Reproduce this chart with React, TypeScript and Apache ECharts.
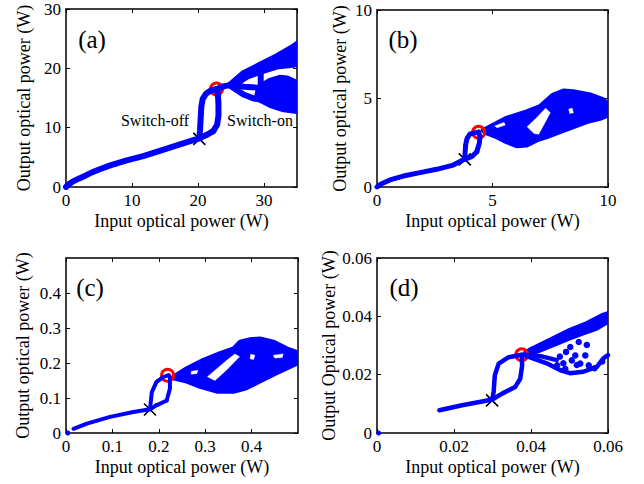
import React, { useEffect, useRef } from "react";
import * as echarts from "echarts";

const BLUE = "#0000ff";
const FONT = "'Liberation Serif', 'Times New Roman', serif";

// ---------- Panel (a) ----------
const aMain = [[0, 0], [0.3, 0.4], [1, 0.9], [2, 1.45], [3, 1.95], [4, 2.5], [5, 2.95], [6.7, 3.65], [9.2, 4.5], [11.7, 5.2], [14.2, 6.1], [16.8, 7.0], [19.3, 7.9], [20.2, 8.2], [21.2, 8.7], [22.3, 9.4]];
const aOff = [[20.2, 8.2], [20.3, 9.5], [20.4, 11.5], [20.5, 13.5], [20.7, 14.8], [21.2, 15.7], [22, 16.3], [22.8, 16.5]];
const aOn = [[22.3, 9.4], [22.9, 10.5], [23.1, 12], [23.1, 14], [23.0, 15.8], [22.8, 16.5]];
const aStem = [[22.8, 16.5], [24, 17.0], [25, 17.2]];
const aMid = [[25, 17.2], [27, 16.9], [29.4, 16.7]];
const aVert = [[29.5, 16.7], [29.5, 19.4]];
const aLow = [[25, 17.0], [26.9, 15.6], [28.5, 14.9], [29.6, 14.7]];
const aUpper = [[24.8, 17.2], [26.9, 19.2], [29.4, 20.6], [31.9, 22.0], [34.4, 23.6], [35, 24.1], [35, 20.8], [34.4, 20.6], [31.9, 20.3], [29.4, 19.4], [27.4, 18.6], [25.9, 17.5]];
const aBlob = [[29.3, 16.8], [30.9, 17.9], [32.4, 18.4], [33.5, 18.3], [34.5, 17.8], [35, 17.2], [35, 15.4], [34.6, 14.9], [35, 14.3], [35, 12.8], [33, 13.1], [31, 13.8], [29.6, 14.6], [29.0, 15.5]];
const aCross = [[20.2, 8.1]];
const aRing = [[22.8, 16.5]];

// ---------- Panel (b) ----------
const bMain = [[0, 0], [0.15, 0.15], [0.56, 0.4], [1.14, 0.62], [1.86, 0.81], [2.58, 1.0], [3.3, 1.24], [3.81, 1.58], [4.1, 1.71], [4.32, 1.99]];
const bOff = [[3.81, 1.58], [3.81, 1.9], [3.84, 2.4], [3.9, 2.75], [4.03, 3.0], [4.4, 3.1]];
const bOn = [[4.32, 1.99], [4.43, 2.47], [4.46, 2.84], [4.4, 3.1]];
const bCloud = [[4.6, 3.2], [5.61, 3.88], [6.48, 4.25], [7.06, 4.54], [7.63, 5.2], [8.07, 5.42], [8.5, 5.38], [9.22, 5.2], [9.8, 4.92], [10.0, 4.63], [10.0, 4.07], [9.65, 3.88], [9.08, 3.69], [8.5, 3.41], [7.92, 3.12], [7.35, 2.84], [6.91, 2.66], [6.48, 2.37], [6.05, 2.33], [5.61, 2.56], [5.18, 2.84], [4.75, 3.05]];
const bHole1 = [[7.3, 4.45], [7.5, 4.2], [7.0, 2.98], [6.8, 3.02], [6.5, 3.4], [6.9, 3.9]];
const bHole2 = [[5.1, 3.45], [5.5, 3.65], [5.55, 3.5], [5.2, 3.35]];
const bHole3 = [[8.3, 4.4], [8.45, 4.45], [8.5, 4.2], [8.35, 4.15]];
const bCross = [[3.8, 1.56]];
const bRing = [[4.4, 3.09]];

// ---------- Panel (c) ----------
const cOrigin = [[0.004, 0]];
const cMain = [[0.016, 0.012], [0.045, 0.027], [0.095, 0.046], [0.145, 0.06], [0.181, 0.068], [0.195, 0.079], [0.217, 0.093]];
const cOff = [[0.181, 0.068], [0.182, 0.08], [0.185, 0.117], [0.195, 0.146], [0.21, 0.16], [0.22, 0.165]];
const cOn = [[0.217, 0.093], [0.224, 0.127], [0.224, 0.155], [0.222, 0.165]];
const cCloud = [[0.231, 0.161], [0.26, 0.185], [0.296, 0.209], [0.332, 0.228], [0.361, 0.242], [0.375, 0.261], [0.397, 0.268], [0.418, 0.27], [0.447, 0.261], [0.476, 0.242], [0.497, 0.232], [0.5, 0.199], [0.483, 0.189], [0.454, 0.171], [0.418, 0.147], [0.389, 0.128], [0.361, 0.118], [0.325, 0.118], [0.289, 0.132], [0.26, 0.147], [0.231, 0.156]];
const cHole1 = [[0.364, 0.226], [0.374, 0.218], [0.346, 0.18], [0.321, 0.15], [0.305, 0.161], [0.346, 0.207]];
const cHole2 = [[0.398, 0.225], [0.407, 0.222], [0.404, 0.21], [0.397, 0.212]];
const cHole3 = [[0.447, 0.222], [0.468, 0.226], [0.466, 0.216], [0.45, 0.214]];
const cHole4 = [[0.27, 0.176], [0.284, 0.179], [0.282, 0.17], [0.27, 0.168]];
const cCross = [[0.181, 0.067]];
const cRing = [[0.219, 0.165]];

// ---------- Panel (d) ----------
const dOrigin = [[0.0004, 0]];
const dMain = [[0.0162, 0.0078], [0.0221, 0.0095], [0.0273, 0.0108], [0.0299, 0.0115], [0.0325, 0.0135], [0.0359, 0.0158], [0.0372, 0.0186], [0.0377, 0.0232], [0.0376, 0.0268]];
const dOff = [[0.0299, 0.0115], [0.0303, 0.0141], [0.0306, 0.0198], [0.0316, 0.0238], [0.0342, 0.026], [0.0376, 0.0268]];
const dUpper = [[0.0385, 0.0275], [0.0397, 0.0285], [0.0458, 0.0325], [0.0501, 0.0353], [0.0545, 0.0376], [0.0588, 0.0405], [0.06, 0.041], [0.06, 0.0382], [0.0571, 0.0359], [0.0536, 0.0342], [0.0501, 0.0325], [0.0458, 0.0302], [0.0415, 0.0279]];
const dLow = [[0.0385, 0.0265], [0.0441, 0.0239], [0.0475, 0.0216], [0.0501, 0.0205], [0.0536, 0.021], [0.0571, 0.0227], [0.0588, 0.0256], [0.06, 0.0267]];
const dMid = [[0.0385, 0.0268], [0.043, 0.0262], [0.0467, 0.025]];
const dDots = [[0.0491, 0.0278], [0.0515, 0.0266], [0.0541, 0.0266], [0.0506, 0.0249], [0.0528, 0.0238], [0.0489, 0.022], [0.0468, 0.0232], [0.055, 0.0232], [0.0524, 0.0312], [0.0502, 0.0295], [0.0475, 0.0262], [0.0545, 0.0302], [0.0519, 0.0233], [0.0484, 0.0239], [0.0565, 0.0222], [0.0585, 0.0245]];
const dCross = [[0.0299, 0.0112]];
const dRing = [[0.0376, 0.0268]];

const panels = [
  { grid: { left: 66, top: 9, width: 231, height: 178 }, xMax: 35, xInt: 10, yMax: 30, yInt: 10, hideXMax: true, hideYMax: false, yName: "Output optical power (W)", yGap: 33, lw: 6,
    lines: [aMain, aOff, aOn, aStem, aMid, aVert, aLow], clouds: [aUpper, aBlob], holes: [], dots: [], origin: [], cross: aCross, ring: aRing },
  { grid: { left: 377, top: 10, width: 231, height: 177 }, xMax: 10, xInt: 5, yMax: 10, yInt: 5, hideXMax: false, hideYMax: false, yName: "Output optical power (W)", yGap: 28, lw: 5,
    lines: [bMain, bOff, bOn], clouds: [bCloud], holes: [bHole1, bHole2, bHole3], dots: [], origin: [], cross: bCross, ring: bRing },
  { grid: { left: 66, top: 258, width: 232, height: 175 }, xMax: 0.5, xInt: 0.1, yMax: 0.5, yInt: 0.1, hideXMax: true, hideYMax: true, yName: "Output optical power (W)", yGap: 34, lw: 4,
    lines: [cMain, cOff, cOn], clouds: [cCloud], holes: [cHole1, cHole2, cHole3, cHole4], dots: [], origin: cOrigin, cross: cCross, ring: cRing },
  { grid: { left: 377, top: 258, width: 231, height: 175 }, xMax: 0.06, xInt: 0.02, yMax: 0.06, yInt: 0.02, hideXMax: false, hideYMax: false, yName: "Output Optical power (W)", yGap: 37, lw: 4.5,
    lines: [dMain, dOff, dLow, dMid], clouds: [dUpper], holes: [], dots: dDots, origin: dOrigin, cross: dCross, ring: dRing },
];

const labels = [
  { t: "(a)", x: 92, y: 39 },
  { t: "(b)", x: 403, y: 39 },
  { t: "(c)", x: 90, y: 287 },
  { t: "(d)", x: 404, y: 287 },
];

function polySeries(polys: number[][][], gi: number, fill: string, stroke: string, lw: number) {
  return {
    type: "custom",
    xAxisIndex: 2 * gi,
    yAxisIndex: 2 * gi,
    silent: true,
    clip: true,
    data: polys.map((p, k) => [p[0][0], p[0][1], k]),
    encode: { x: 0, y: 1 },
    renderItem: (params: any, api: any) => {
      const k = api.value(2);
      const pts = polys[k].map((pt) => api.coord(pt));
      return {
        type: "polygon",
        shape: { points: pts },
        style: { fill, stroke, lineWidth: lw, lineJoin: "round", opacity: 1 },
      };
    },
  };
}

function buildOption() {
  const axisText = { color: "#000", fontSize: 17, fontFamily: FONT };
  const nameText = { color: "#000", fontSize: 18, fontFamily: FONT };
  const lineStyle = { color: "#000", width: 1.5 };
  const xAxis: any[] = [];
  const yAxis: any[] = [];
  const series: any[] = [];
  panels.forEach((p, i) => {
    xAxis.push({
      type: "value", gridIndex: i, min: 0, max: p.xMax, interval: p.xInt, position: "bottom",
      axisLine: { show: true, onZero: false, lineStyle },
      axisTick: { show: true, inside: true, length: 4, lineStyle: { color: "#000", width: 1 } },
      axisLabel: { ...axisText, margin: 5, showMaxLabel: !p.hideXMax, showMinLabel: true },
      splitLine: { show: false },
      name: "Input optical power (W)", nameLocation: "middle", nameGap: 25, nameTextStyle: nameText,
    });
    xAxis.push({
      type: "value", gridIndex: i, min: 0, max: p.xMax, interval: p.xInt, position: "top",
      axisLine: { show: true, onZero: false, lineStyle },
      axisTick: { show: true, inside: true, length: 4, lineStyle: { color: "#000", width: 1 } },
      axisLabel: { show: false }, splitLine: { show: false },
    });
    yAxis.push({
      type: "value", gridIndex: i, min: 0, max: p.yMax, interval: p.yInt, position: "left",
      axisLine: { show: true, onZero: false, lineStyle },
      axisTick: { show: true, inside: true, length: 4, lineStyle: { color: "#000", width: 1 } },
      axisLabel: { ...axisText, margin: 5, showMaxLabel: !p.hideYMax, showMinLabel: true },
      splitLine: { show: false },
      name: p.yName, nameLocation: "middle", nameGap: p.yGap, nameTextStyle: nameText,
    });
    yAxis.push({
      type: "value", gridIndex: i, min: 0, max: p.yMax, interval: p.yInt, position: "right",
      axisLine: { show: true, onZero: false, lineStyle },
      axisTick: { show: true, inside: true, length: 4, lineStyle: { color: "#000", width: 1 } },
      axisLabel: { show: false }, splitLine: { show: false },
    });

    const xi = 2 * i;
    const yi = 2 * i;
    series.push(polySeries(p.clouds, i, BLUE, BLUE, p.lw));
    if (p.holes.length) series.push(polySeries(p.holes, i, "#ffffff", "#ffffff", 0.5));
    p.lines.forEach((ln) => {
      series.push({
        type: "line", xAxisIndex: xi, yAxisIndex: yi, data: ln, symbol: "none", silent: true,
        lineStyle: { color: BLUE, width: p.lw, cap: "round", join: "round", opacity: 1 },
      });
    });
    if (p.dots.length) {
      series.push({
        type: "scatter", xAxisIndex: xi, yAxisIndex: yi, data: p.dots, symbol: "circle", symbolSize: 6.5, silent: true,
        itemStyle: { color: BLUE, opacity: 1 },
      });
    }
    if (p.origin.length) {
      series.push({
        type: "scatter", xAxisIndex: xi, yAxisIndex: yi, data: p.origin, symbol: "circle", symbolSize: 5, silent: true,
        itemStyle: { color: BLUE, opacity: 1 }, clip: false,
      });
    }
    series.push({
      type: "scatter", xAxisIndex: xi, yAxisIndex: yi, data: p.cross, silent: true,
      symbol: "path://M0,0L10,10M10,0L0,10", symbolSize: 12,
      itemStyle: { color: "rgba(0,0,0,0)", borderColor: "#000", borderWidth: 1.6, opacity: 1 },
    });
    series.push({
      type: "scatter", xAxisIndex: xi, yAxisIndex: yi, data: p.ring, silent: true,
      symbol: "circle", symbolSize: 12,
      itemStyle: { color: "rgba(0,0,0,0)", borderColor: "#ff0000", borderWidth: 3, opacity: 1 },
    });
  });

  const graphic: any[] = labels.map((l) => ({
    type: "text", x: l.x, y: l.y, silent: true,
    style: { text: l.t, fontSize: 25, fontFamily: FONT, fill: "#000", align: "center", verticalAlign: "middle" },
  }));
  graphic.push({
    type: "text", x: 155, y: 120, silent: true,
    style: { text: "Switch-off", fontSize: 16, fontFamily: FONT, fill: "#000", align: "center", verticalAlign: "middle" },
  });
  graphic.push({
    type: "text", x: 260, y: 120, silent: true,
    style: { text: "Switch-on", fontSize: 16, fontFamily: FONT, fill: "#000", align: "center", verticalAlign: "middle" },
  });

  return {
    animation: false,
    backgroundColor: "#ffffff",
    grid: panels.map((p) => ({ ...p.grid, containLabel: false })),
    xAxis,
    yAxis,
    series,
    graphic,
  };
}

export default function App() {
  const ref = useRef<HTMLDivElement>(null);
  useEffect(() => {
    if (!ref.current) return;
    const chart = echarts.init(ref.current, undefined, { renderer: "svg" });
    chart.setOption(buildOption() as any);
    return () => chart.dispose();
  }, []);
  return (
    <div
      ref={ref}
      style={{ position: "fixed", left: 0, top: 0, width: 644, height: 484, background: "#fff" }}
    />
  );
}
